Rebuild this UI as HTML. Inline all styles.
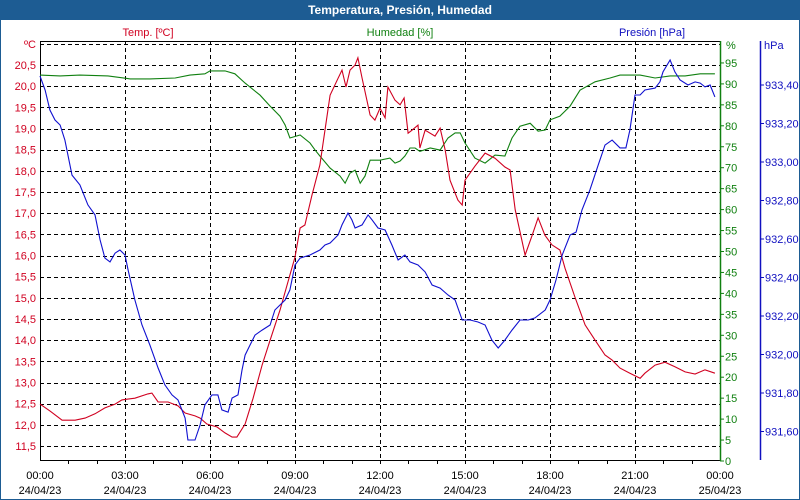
<!DOCTYPE html>
<html><head><meta charset="utf-8"><style>
body{margin:0;background:#fff;}
svg{display:block;font-family:"Liberation Sans",sans-serif;}
</style></head><body>
<svg width="800" height="500" viewBox="0 0 800 500">
<rect x="0" y="0" width="800" height="500" fill="#fff"/>
<rect x="0.5" y="0.5" width="799" height="499" fill="none" stroke="#1d5c93"/>
<rect x="0" y="0" width="800" height="20" fill="#1d5c93"/>
<text x="400" y="14" text-anchor="middle" fill="#fff" font-weight="bold" font-size="12">Temperatura, Presión, Humedad</text>
<text x="148" y="36" text-anchor="middle" fill="#d00020" font-size="11">Temp. [ºC]</text>
<text x="400" y="36" text-anchor="middle" fill="#108010" font-size="11">Humedad [%]</text>
<text x="652" y="36" text-anchor="middle" fill="#1010c0" font-size="11">Presión [hPa]</text>
<g id="grid"></g>
<g id="axes"></g>
<g id="series"></g>
</svg>
<script>
const tempHours=[0,.35,.78,1.24,1.59,1.94,2.29,2.65,2.89,3.35,3.81,3.95,4.17,4.52,4.87,5.12,5.47,5.65,5.89,6.25,6.53,6.78,6.95,7.24,7.52,7.84,8.12,8.47,8.82,9.0,9.18,9.35,9.6,9.88,10.24,10.52,10.66,10.8,10.94,11.12,11.22,11.37,11.65,11.82,12.0,12.18,12.28,12.53,12.71,12.85,12.99,13.13,13.34,13.41,13.59,13.94,14.12,14.3,14.47,14.75,14.9,15.0,15.35,15.71,16.06,16.41,16.59,16.77,17.12,17.37,17.58,17.82,18.07,18.35,18.53,18.88,19.24,19.59,19.94,20.19,20.47,20.82,21.18,21.35,21.71,22.06,22.41,22.77,23.12,23.47,23.82];
const tempValues=[12.49,12.33,12.11,12.11,12.16,12.26,12.40,12.49,12.59,12.63,12.73,12.75,12.54,12.54,12.45,12.28,12.21,12.16,12.02,11.95,11.81,11.71,11.71,12.02,12.63,13.41,14.0,14.71,15.54,15.96,16.65,16.72,17.43,18.14,19.79,20.19,20.38,19.98,20.38,20.5,20.67,20.19,19.32,19.2,19.48,19.25,19.98,19.67,19.56,19.72,18.89,18.96,19.08,18.54,18.96,18.82,19.01,18.49,17.78,17.31,17.19,17.78,18.11,18.42,18.3,18.09,18.02,17.08,16.01,16.48,16.89,16.48,16.25,16.13,15.7,15.02,14.36,14.0,13.65,13.53,13.34,13.22,13.1,13.22,13.41,13.48,13.37,13.25,13.2,13.3,13.22];
const humHours=[0,.71,1.41,2.4,3.18,3.88,4.77,5.29,5.82,6.0,6.53,6.88,7.24,7.77,8.12,8.47,8.65,8.82,9.18,9.53,9.71,9.88,10.24,10.59,10.77,10.94,11.12,11.3,11.47,11.65,12.0,12.35,12.53,12.71,12.88,13.06,13.24,13.41,13.77,14.12,14.4,14.65,14.83,15.0,15.35,15.71,16.06,16.41,16.66,16.94,17.3,17.58,17.83,18.0,18.35,18.71,19.06,19.59,20.12,20.47,21.18,21.71,22.24,22.77,23.3,23.82];
const humValues=[92.1,91.9,92.1,91.9,91.2,91.2,91.4,92.1,92.4,93.1,93.1,92.4,90.2,87.3,84.7,82.3,80.2,77.1,77.8,75.9,74.2,72.8,69.9,68.0,66.3,68.7,69.4,66.3,68.0,71.8,71.8,72.3,71.1,71.6,72.8,74.7,74.7,73.9,74.7,74.2,77.1,78.3,78.3,75.9,72.3,71.1,73.0,72.8,77.1,79.9,80.6,78.7,79.0,81.4,82.3,84.7,88.5,90.5,91.4,92.1,92.1,91.4,91.9,91.9,92.4,92.4];
const presHours=[0,.18,.35,.53,.71,.88,1.13,1.41,1.69,1.94,2.12,2.29,2.47,2.65,2.82,3.0,3.11,3.35,3.6,3.88,4.17,4.41,4.66,4.87,5.12,5.22,5.47,5.65,5.82,6.07,6.28,6.42,6.64,6.78,6.99,7.13,7.24,7.41,7.59,7.84,8.12,8.29,8.47,8.65,8.82,9.0,9.18,9.53,9.88,10.06,10.24,10.52,10.66,10.87,11.01,11.12,11.37,11.58,11.72,11.93,12.18,12.42,12.64,12.88,13.06,13.34,13.59,13.84,14.12,14.4,14.65,14.9,15.18,15.46,15.71,15.95,16.17,16.41,16.66,16.94,17.23,17.47,17.83,18.0,18.21,18.43,18.71,18.92,19.13,19.41,19.7,19.94,20.19,20.47,20.68,20.82,21.0,21.18,21.35,21.71,21.88,21.99,22.24,22.41,22.59,22.87,23.12,23.3,23.47,23.65,23.82];
const presValues=[933.447,933.374,933.27,933.218,933.192,933.114,932.932,932.881,932.777,932.725,932.595,932.501,932.481,932.527,932.543,932.517,932.439,932.283,932.153,932.049,931.930,931.842,931.790,931.764,931.670,931.556,931.556,931.634,931.738,931.790,931.790,931.712,931.701,931.774,931.790,931.919,931.997,932.049,932.101,932.127,932.153,932.231,932.257,932.283,932.335,932.465,932.501,932.517,932.543,932.569,932.579,932.621,932.673,932.735,932.699,932.657,932.673,932.725,932.699,932.657,932.647,932.569,932.491,932.517,932.481,932.465,932.429,932.361,932.345,932.309,932.283,932.179,932.179,932.169,932.153,932.075,932.034,932.075,932.127,932.179,932.179,932.19,932.231,932.283,932.387,932.517,932.621,932.636,932.751,932.855,932.984,933.088,933.114,933.073,933.073,933.166,933.348,933.348,933.374,933.384,933.416,933.468,933.530,933.468,933.426,933.4,933.416,933.41,933.39,933.40,933.338];
const tempTicks=["11,5","12,0","12,5","13,0","13,5","14,0","14,5","15,0","15,5","16,0","16,5","17,0","17,5","18,0","18,5","19,0","19,5","20,0","20,5"];
const humTicks=[0,5,10,15,20,25,30,35,40,45,50,55,60,65,70,75,80,85,90,95];
const presTicks=["931,60","931,80","932,00","932,20","932,40","932,60","932,80","933,00","933,20","933,40"];
const timeTicks=["00:00","03:00","06:00","09:00","12:00","15:00","18:00","21:00","00:00"];
const dateTicks=["24/04/23","24/04/23","24/04/23","24/04/23","24/04/23","24/04/23","24/04/23","24/04/23","25/04/23"];

const NS="http://www.w3.org/2000/svg";
const X0=40,X1=720,YT=41,YB=460;
const xS=h=>X0+h*(X1-X0)/24;
const tY=t=>446-(t-11.5)*42.33;
const hY=h=>461-h*4.19;
const pY=p=>85+(933.4-p)*192.5;
function mk(tag,attrs,parent){const e=document.createElementNS(NS,tag);for(const k in attrs)e.setAttribute(k,attrs[k]);parent.appendChild(e);return e;}
const grid=document.getElementById('grid'),axes=document.getElementById('axes'),series=document.getElementById('series');
// horizontal grid
for(let i=0;i<=19;i++){const y=Math.round(tY(11.5+i*0.5))+0.5;
 const l=mk('line',{x1:X0,x2:X1,y1:y,y2:y,stroke:'#000','stroke-dasharray':'4,3'},grid);
 
 }
for(let i=1;i<8;i++){const x=Math.round(xS(i*3))+0.5;
 const l=mk('line',{x1:x,x2:x,y1:YT,y2:YB,stroke:'#000','stroke-dasharray':'4,3'},grid);
 
 }
// frame
const fr=mk('path',{d:`M${X0+.5},${YB}V${YT+.5}H${X1} M${X0},${YB+.5}H${X1}`,stroke:'#000',fill:'none'},axes);


const ga=mk('line',{x1:X1+.5,x2:X1+.5,y1:YT,y2:YB+1,stroke:'#108010','stroke-width':1.5},axes);


const ba=mk('line',{x1:760.5,x2:760.5,y1:YT,y2:YB,stroke:'#1010c0','stroke-width':1.5},axes);


// temp labels
const cu=mk('text',{x:36,y:48,'text-anchor':'end',fill:'#d00020','font-size':11},axes);cu.textContent='ºC';


tempTicks.forEach((s,i)=>{const t=mk('text',{x:36,y:tY(11.5+i*0.5)+4,'text-anchor':'end',fill:'#d00020','font-size':11},axes);t.textContent=s;
 
 });
const hu=mk('text',{x:726,y:49,fill:'#108010','font-size':11},axes);hu.textContent='%';


humTicks.forEach(v=>{const y=hY(v);mk('line',{x1:X1,x2:X1+4,y1:y,y2:y,stroke:'#108010'},axes);
 const t=mk('text',{x:725,y:y+4,fill:'#108010','font-size':11},axes);t.textContent=v;
 
 });
const pu=mk('text',{x:764,y:49,fill:'#1010c0','font-size':11},axes);pu.textContent='hPa';


presTicks.forEach((s,i)=>{const y=pY(931.6+i*0.2);mk('line',{x1:760,x2:764,y1:y,y2:y,stroke:'#1010c0'},axes);
 const t=mk('text',{x:765,y:y+4,fill:'#1010c0','font-size':11},axes);t.textContent=s;
 
 });
for(let h=1;h<24;h++){const x=Math.round(xS(h))+.5;mk('line',{x1:x,x2:x,y1:YB,y2:YB+4,stroke:'#000'},axes);}
timeTicks.forEach((s,i)=>{const x=xS(i*3);
 const t=mk('text',{x:x,y:479,'text-anchor':'middle',fill:'#000','font-size':11},axes);t.textContent=s;
 
 
 const d=mk('text',{x:x,y:494,'text-anchor':'middle',fill:'#000','font-size':11},axes);d.textContent=dateTicks[i];
 
 });
function line(hs,vs,yf,color,name){const pts=hs.map((h,i)=>xS(h).toFixed(1)+','+yf(vs[i]).toFixed(1)).join(' ');
 const p=mk('polyline',{points:pts,fill:'none',stroke:color,'stroke-width':1.1},series);
 
 }
line(humHours,humValues,hY,'#108010','humidity-line');
line(tempHours,tempValues,tY,'#d00020','temperature-line');
line(presHours,presValues,pY,'#1010d0','pressure-line');
</script>
</body></html>
